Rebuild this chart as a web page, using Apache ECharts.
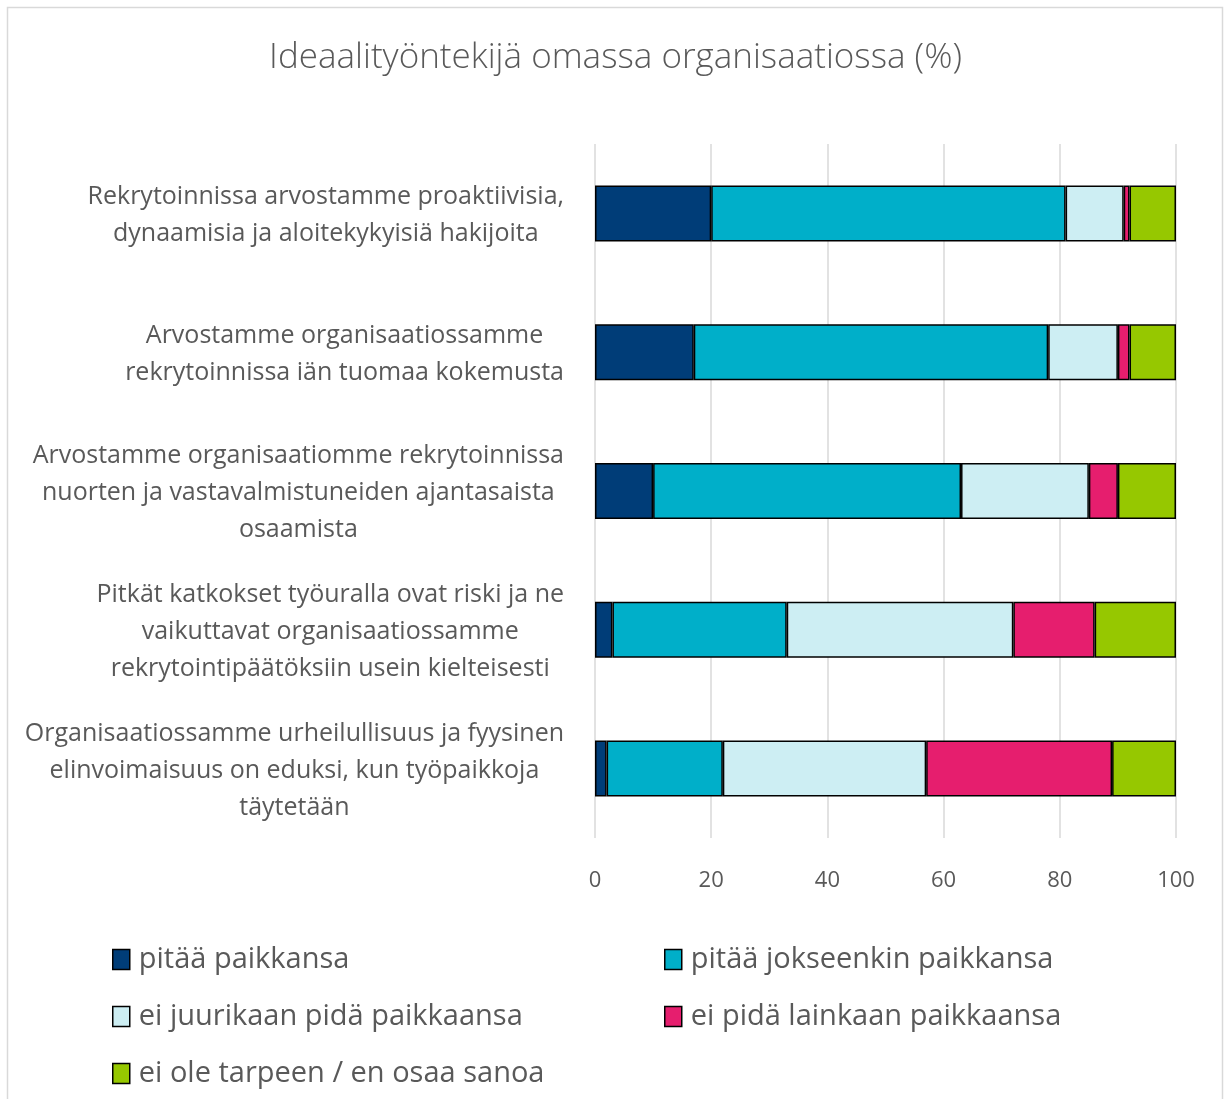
<!DOCTYPE html>
<html>
<head>
<meta charset="utf-8">
<script src="https://cdn.jsdelivr.net/npm/echarts@6/dist/echarts.min.js"></script>
<style>
  html, body { margin: 0; padding: 0; background: #fff; }
  #main { width: 1231px; height: 1099px; }
</style>
</head>
<body>
<div id="main"></div>
<script>
// kategoriat (ylhäältä alas)
const categories = [
  'Rekrytoinnissa arvostamme proaktiivisia,\ndynaamisia ja aloitekykyisiä hakijoita',
  'Arvostamme organisaatiossamme\nrekrytoinnissa iän tuomaa kokemusta',
  'Arvostamme organisaatiomme rekrytoinnissa\nnuorten ja vastavalmistuneiden ajantasaista\nosaamista',
  'Pitkät katkokset työuralla ovat riski ja ne\nvaikuttavat organisaatiossamme\nrekrytointipäätöksiin usein kielteisesti',
  'Organisaatiossamme urheilullisuus ja fyysinen\nelinvoimaisuus on eduksi, kun työpaikkoja\ntäytetään'
];
const seriesNames = [
  'pitää paikkansa',
  'pitää jokseenkin paikkansa',
  'ei juurikaan pidä paikkaansa',
  'ei pidä lainkaan paikkaansa',
  'ei ole tarpeen / en osaa sanoa'
];
const pitaa = [20, 17, 10, 3, 2];
const jokseenkin = [61, 61, 53, 30, 20];
const eiJuurikaan = [10, 12, 22, 39, 35];
const eiLainkaan = [1, 2, 5, 14, 32];
const eiTarpeen = [8, 8, 10, 14, 11];
const xTicks = [0, 20, 40, 60, 80, 100];

const colors = ['#003d78', '#00afc9', '#cdeef3', '#e61e6e', '#96c800'];
const values = [pitaa, jokseenkin, eiJuurikaan, eiLainkaan, eiTarpeen];
const font = '"Open Sans", "Noto Sans", sans-serif';

const myChart = echarts.init(document.getElementById('main'));

// legendat kahteen sarakkeeseen
const legendPos = [[112, 945], [664, 945], [112, 1002], [664, 1002], [112, 1059]];
const legends = seriesNames.map(function (name, i) {
  return {
    data: [{ name: name, icon: 'rect' }],
    left: legendPos[i][0],
    top: legendPos[i][1],
    padding: 0,
    itemWidth: 17,
    itemHeight: 20,
    textStyle: { fontFamily: font, fontSize: 29, color: '#595959', padding: [0, 0, 0, 4] },
    itemStyle: { borderColor: '#000', borderWidth: 1.5 }
  };
});

const option = {
  backgroundColor: '#fff',
  title: {
    text: 'Ideaalityöntekijä omassa organisaatiossa (%)',
    left: 'center',
    top: 36,
    textStyle: { fontFamily: font, fontSize: 35, fontWeight: 300, color: '#595959' }
  },
  graphic: [{
    type: 'rect',
    shape: { x: 7.5, y: 7.5, width: 1215, height: 1110 },
    style: { fill: 'none', stroke: '#d9d9d9', lineWidth: 1.5 },
    silent: true
  }],
  legend: legends,
  grid: { left: 595, right: 55, top: 144, bottom: 261, containLabel: false },
  xAxis: {
    type: 'value',
    min: 0,
    max: 100,
    interval: 20,
    axisLine: { show: false },
    axisTick: { show: false },
    splitLine: { lineStyle: { color: '#d9d9d9', width: 1.5 } },
    axisLabel: {
      margin: 32,
      fontFamily: font,
      fontSize: 22,
      color: '#595959',
      formatter: function (v) { return xTicks.indexOf(v) >= 0 ? String(v) : ''; }
    }
  },
  yAxis: {
    type: 'category',
    data: categories,
    inverse: true,
    axisLine: { show: false },
    axisTick: { show: false },
    axisLabel: {
      margin: 31,
      align: 'right',
      formatter: function (v) {
        return v.split('\n').map(function (s) { return '{c|' + s + '}'; }).join('\n');
      },
      rich: {
        c: {
          align: 'center',
          fontFamily: font,
          fontSize: 25,
          lineHeight: 37,
          color: '#595959',
          padding: [4, 0, 0, 0]
        }
      }
    }
  },
  series: values.map(function (arr, i) {
    return {
      name: seriesNames[i],
      type: 'bar',
      stack: 'total',
      data: arr,
      barWidth: 56,
      itemStyle: { color: colors[i], borderColor: '#000', borderWidth: 1.5 },
      emphasis: { disabled: true }
    };
  })
};

myChart.setOption(option);
</script>
</body>
</html>
